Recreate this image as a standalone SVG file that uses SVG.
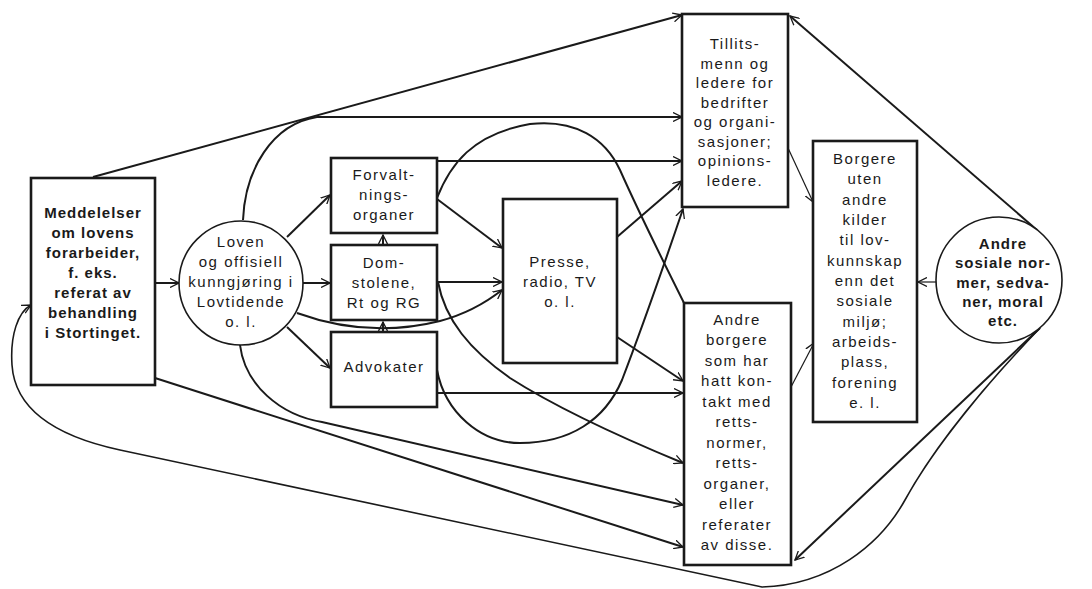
<svg xmlns="http://www.w3.org/2000/svg" width="1092" height="589" viewBox="0 0 1092 589">
<style>
.bg{fill:#fff}
.box{fill:#fff;stroke:#1a1a1a;stroke-width:2.6}
.circ{fill:#fff;stroke:#1a1a1a;stroke-width:1.6}
.c{fill:none;stroke:#1a1a1a;stroke-width:2;marker-end:url(#a)}
.cn{fill:none;stroke:#1a1a1a;stroke-width:2}
.thin{fill:none;stroke:#1a1a1a;stroke-width:1.2;marker-end:url(#a)}
.loop{fill:none;stroke:#1a1a1a;stroke-width:1.6;marker-end:url(#a)}
text{font-family:"Liberation Sans",Arial,sans-serif;font-size:15px;fill:#1a1a1a;text-anchor:middle;letter-spacing:1.5px}
.b{font-weight:bold;letter-spacing:1px}
</style>
<defs>
<marker id="a" viewBox="0 0 10 10" refX="9" refY="5" markerWidth="10" markerHeight="10" markerUnits="userSpaceOnUse" orient="auto">
<path d="M0,0.5 L9,5 L0,9.5" fill="none" stroke="#1a1a1a" stroke-width="1.3"/>
</marker>
</defs>
<rect class="bg" x="0" y="0" width="1092" height="589"/>
<g id="connectors">
<path class="c" d="M93,177 L682,15"/>
<path class="c" d="M243,220 C245,170 272,124 317,117 L682,117"/>
<path class="c" d="M437,161 L682,161"/>
<path class="cn" d="M437,198 C450,165 472,134 530,124 C575,119 605,138 620,170 C640,215 665,265 684,303"/>
<path class="c" d="M617,237 L682,181"/>
<path class="c" d="M437,370 C445,412 480,443 520,443 C570,443 605,420 622,380 C645,320 665,262 683,209"/>
<path class="c" d="M438,282 C445,320 470,350 510,378 C560,410 620,437 683,463"/>
<path class="c" d="M617,337 L683,381"/>
<path class="c" d="M437,393 L683,393"/>
<path class="c" d="M240,345 C245,385 280,415 322,422 L683,505"/>
<path class="c" d="M155,378 L683,547"/>
<path class="c" d="M155,283 L179,283"/>
<path class="c" d="M287,237 L330,195"/>
<path class="c" d="M303,283 L330,283"/>
<path class="c" d="M287,327 L330,368"/>
<path class="c" d="M297,313 C330,325 380,336 440,321 C470,313 488,301 502,290"/>
<path class="c" d="M383,245 L383,235"/>
<path class="c" d="M383,332 L383,322"/>
<path class="c" d="M437,199 L502,248"/>
<path class="c" d="M437,282 L502,282"/>
<path class="c" d="M1037,230 L790,16"/>
<path class="c" d="M1040,328 L795,560"/>
<path class="thin" d="M936,282 L918,282"/>
<path class="thin" d="M788,148 L813,202"/>
<path class="thin" d="M791,387 L814,343"/>
<path class="loop" d="M1040,328 C990,380 935,445 905,500 C880,545 830,585 762,587 L120,450 C55,436 15,410 12,365 C10,335 18,312 31,305"/>
</g>
<g id="meddelelser">
<rect class="box" x="31" y="178" width="124" height="207"/>
<text class="b" x="93" y="218">Meddelelser</text>
<text class="b" x="93" y="238">om lovens</text>
<text class="b" x="93" y="258">forarbeider,</text>
<text class="b" x="93" y="278">f. eks.</text>
<text class="b" x="93" y="298">referat av</text>
<text class="b" x="93" y="318">behandling</text>
<text class="b" x="93" y="338">i Stortinget.</text>
</g>
<g id="loven">
<circle class="circ" cx="241" cy="283" r="62"/>
<text x="241" y="247">Loven</text>
<text x="241" y="267">og offisiell</text>
<text x="241" y="287">kunngjøring i</text>
<text x="241" y="307">Lovtidende</text>
<text x="241" y="327">o. l.</text>
</g>
<g id="forvaltning">
<rect class="box" x="331" y="158" width="106" height="75"/>
<text x="384" y="180">Forvalt-</text>
<text x="384" y="200">nings-</text>
<text x="384" y="220">organer</text>
</g>
<g id="domstolene">
<rect class="box" x="331" y="245" width="106" height="75"/>
<text x="384" y="268">Dom-</text>
<text x="384" y="288">stolene,</text>
<text x="384" y="308">Rt og RG</text>
</g>
<g id="advokater">
<rect class="box" x="331" y="332" width="106" height="75"/>
<text x="384" y="372">Advokater</text>
</g>
<g id="presse">
<rect class="box" x="503" y="199" width="114" height="164"/>
<text x="560" y="267">Presse,</text>
<text x="560" y="287">radio, TV</text>
<text x="560" y="307">o. l.</text>
</g>
<g id="tillitsmenn">
<rect class="box" x="682" y="14" width="106" height="193"/>
<text x="735" y="49">Tillits-</text>
<text x="735" y="69">menn og</text>
<text x="735" y="88">ledere for</text>
<text x="735" y="108">bedrifter</text>
<text x="735" y="127">og organi-</text>
<text x="735" y="147">sasjoner;</text>
<text x="735" y="166">opinions-</text>
<text x="735" y="186">ledere.</text>
</g>
<g id="borgere">
<rect class="box" x="813" y="141" width="104" height="281"/>
<text x="865" y="164">Borgere</text>
<text x="865" y="184">uten</text>
<text x="865" y="205">andre</text>
<text x="865" y="225">kilder</text>
<text x="865" y="245">til lov-</text>
<text x="865" y="266">kunnskap</text>
<text x="865" y="286">enn det</text>
<text x="865" y="306">sosiale</text>
<text x="865" y="327">miljø;</text>
<text x="865" y="347">arbeids-</text>
<text x="865" y="367">plass,</text>
<text x="865" y="388">forening</text>
<text x="865" y="408">e. l.</text>
</g>
<g id="andre-borgere">
<rect class="box" x="684" y="303" width="107" height="262"/>
<text x="737" y="325">Andre</text>
<text x="737" y="345">borgere</text>
<text x="737" y="366">som har</text>
<text x="737" y="386">hatt kon-</text>
<text x="737" y="407">takt med</text>
<text x="737" y="427">retts-</text>
<text x="737" y="448">normer,</text>
<text x="737" y="468">retts-</text>
<text x="737" y="489">organer,</text>
<text x="737" y="509">eller</text>
<text x="737" y="530">referater</text>
<text x="737" y="550">av disse.</text>
</g>
<g id="andre-normer">
<circle class="circ" cx="999" cy="280" r="63"/>
<text class="b" x="1003" y="249">Andre</text>
<text class="b" x="1003" y="268">sosiale nor-</text>
<text class="b" x="1003" y="288">mer, sedva-</text>
<text class="b" x="1003" y="307">ner, moral</text>
<text class="b" x="1003" y="326">etc.</text>
</g>
</svg>
